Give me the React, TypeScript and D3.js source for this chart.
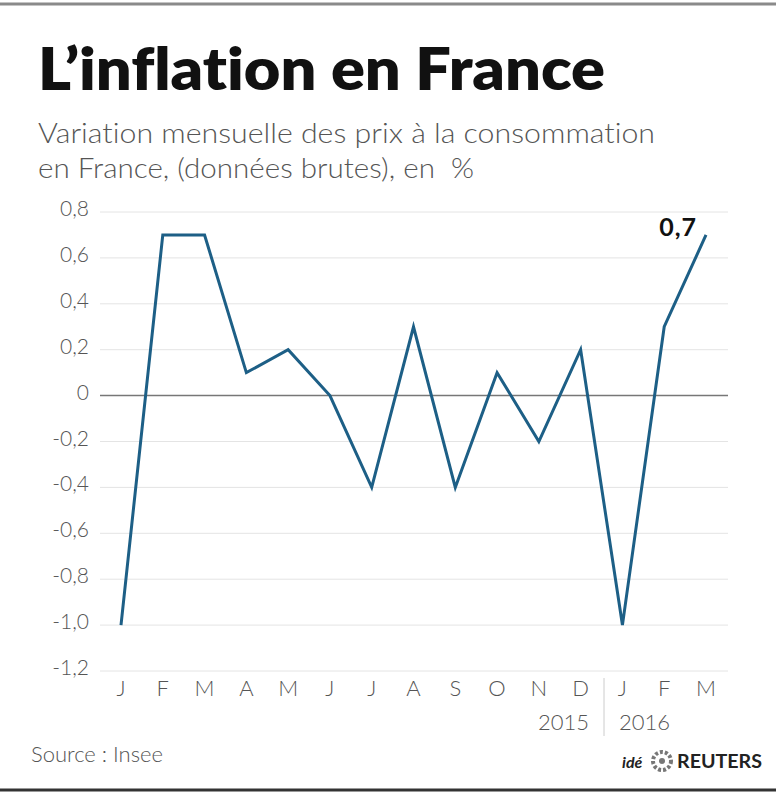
import React from "react";
import * as d3 from "d3";

const months = ["J", "F", "M", "A", "M", "J", "J", "A", "S", "O", "N", "D", "J", "F", "M"];
const values = [-1.0, 0.7, 0.7, 0.1, 0.2, 0.0, -0.4, 0.3, -0.4, 0.1, -0.2, 0.2, -1.0, 0.3, 0.7];
const yTicks = [0.8, 0.6, 0.4, 0.2, 0, -0.2, -0.4, -0.6, -0.8, -1.0, -1.2];
const years = ["2015", "2016"];

const W = 776;
const H = 800;

export default function App() {
  const x = d3.scaleLinear().domain([0, months.length - 1]).range([121, 706]);
  const y = d3.scaleLinear().domain([-1.2, 0.8]).range([671, 212]);
  const fmt = (v: number) => (v === 0 ? "0" : d3.format(".1f")(v).replace(".", ",").replace("−", "-"));
  const line = d3
    .line<number>()
    .x((_, i) => x(i))
    .y((d) => y(d));
  const font = "Lato, 'Open Sans', 'DejaVu Sans', sans-serif";
  const sepX = 604;
  const last = values.length - 1;
  return (
    <svg
      width={W}
      height={H}
      style={{ position: "absolute", left: 0, top: 0, background: "#fff", fontVariantLigatures: "none" }}
      fontFamily={font}
    >
      <rect x={0} y={0} width={W} height={H} fill="#fff" />
      <line x1={0} x2={W} y1={4} y2={4} stroke="#8a8a8a" strokeWidth={3} />
      <line x1={0} x2={W} y1={790} y2={790} stroke="#333" strokeWidth={3} />
      <text
        x={38}
        y={90}
        fontSize={58}
        fontWeight={800}
        fill="#111"
        textLength={567}
        lengthAdjust="spacingAndGlyphs"
        style={{ fontVariantLigatures: "none" }}
      >
        L’inflation en France
      </text>
      <text x={38} y={143} fontSize={28} fill="#555" fontWeight={300} textLength={617} lengthAdjust="spacingAndGlyphs">
        Variation mensuelle des prix à la consommation
      </text>
      <text
        x={38}
        y={178}
        fontSize={28}
        fill="#555"
        fontWeight={300}
        textLength={436}
        lengthAdjust="spacingAndGlyphs"
        style={{ whiteSpace: "pre" }}
      >
        {"en France, (données brutes), en  %"}
      </text>
      {yTicks.map((t) => (
        <g key={t}>
          <line
            x1={100}
            x2={728}
            y1={y(t)}
            y2={y(t)}
            stroke={t === 0 ? "#777" : "#e4e4e4"}
            strokeWidth={t === 0 ? 1.5 : 1}
          />
          <text x={89} y={y(t) + 4} fontSize={21} fill="#555" textAnchor="end" fontWeight={300}>
            {fmt(t)}
          </text>
        </g>
      ))}
      {months.map((m, i) => (
        <text key={i} x={x(i)} y={696} fontSize={22} fill="#555" textAnchor="middle" fontWeight={300}>
          {m}
        </text>
      ))}
      <line x1={sepX} x2={sepX} y1={678} y2={736} stroke="#ccc" strokeWidth={1} />
      <text x={589} y={730} fontSize={22} fill="#555" textAnchor="end" fontWeight={300}>
        {years[0]}
      </text>
      <text x={619} y={730} fontSize={22} fill="#555" textAnchor="start" fontWeight={300}>
        {years[1]}
      </text>
      <path d={line(values) || ""} fill="none" stroke="#1d5f86" strokeWidth={3} strokeLinejoin="miter" />
      <text
        x={x(last) - 9}
        y={y(values[last]) + 1}
        fontSize={25}
        fontWeight={700}
        fill="#111"
        textAnchor="end"
        letterSpacing={1}
      >
        {fmt(values[last])}
      </text>
      <text x={31} y={762} fontSize={22} fill="#555" fontWeight={300}>
        Source : Insee
      </text>
      <g>
        <text x={622} y={768} fontSize={16} fontStyle="italic" fontWeight={700} fill="#222">
          idé
        </text>
        <circle cx={662} cy={761} r={9} fill="none" stroke="#777" strokeWidth={4} strokeDasharray="3 2" />
        <circle cx={662} cy={761} r={3} fill="#777" />
        <text x={677} y={768} fontSize={19} fontWeight={700} fill="#222" textLength={85} lengthAdjust="spacingAndGlyphs">
          REUTERS
        </text>
      </g>
    </svg>
  );
}
